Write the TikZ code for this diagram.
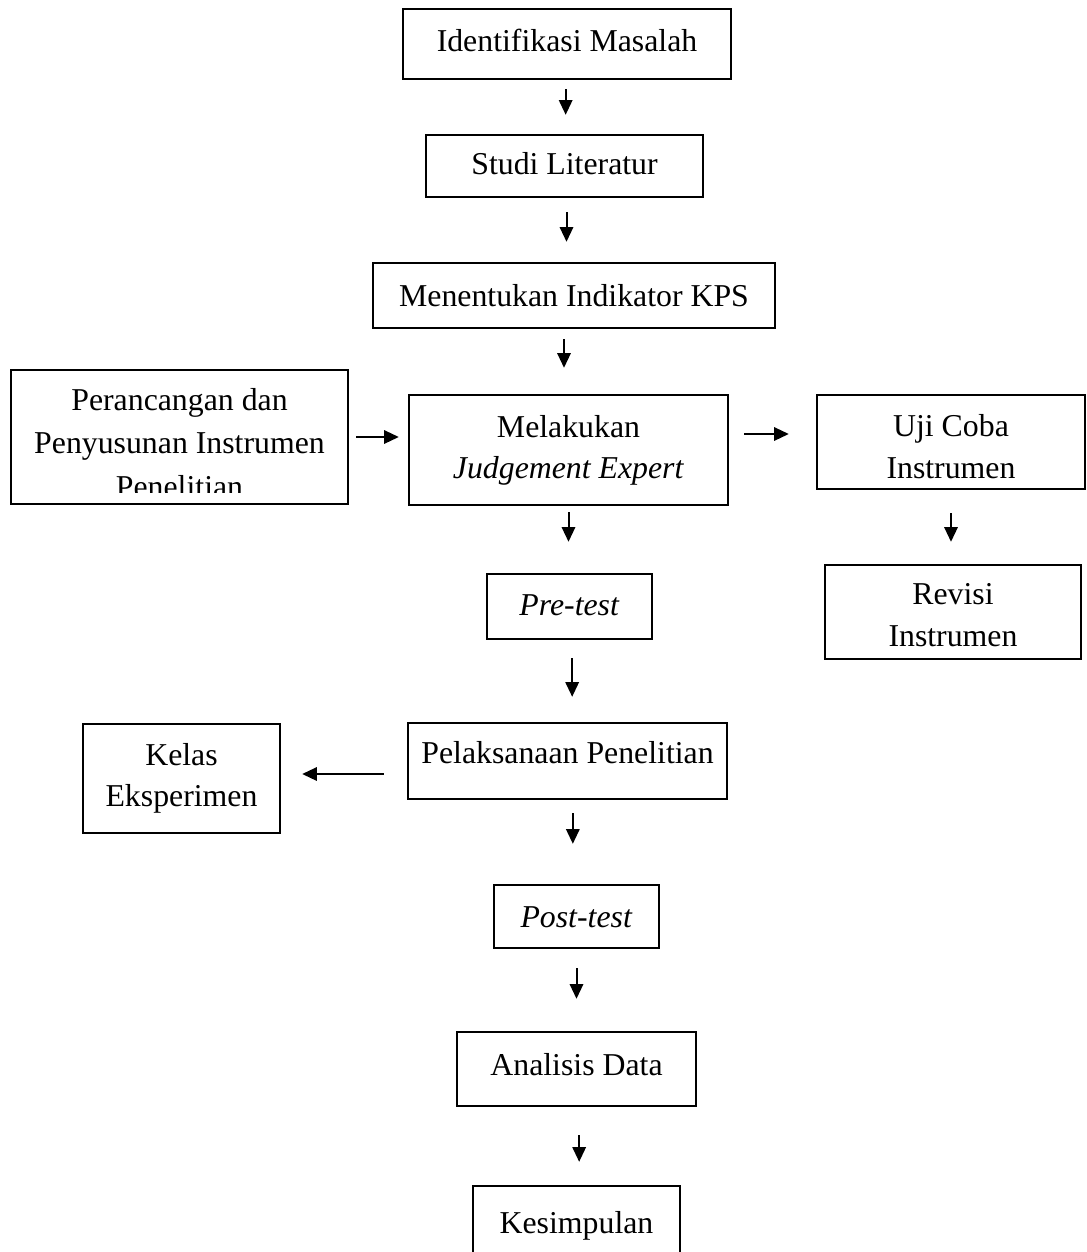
\documentclass[tikz,border=0pt]{standalone}
\usepackage{fontspec}
\setmainfont{Liberation Serif}
\usetikzlibrary{arrows.meta,calc}
% raise last baseline by #1, line distance #2, lines #3
\newcommand\tb[3]{\raisebox{#1}[0pt][0pt]{\fontsize{23.85}{#2}\selectfont\begin{tabular}[b]{@{}c@{}}#3\end{tabular}}}
\newcommand\tl[2]{\raisebox{#1}[0pt][0pt]{#2}}
\tikzset{
  box/.style={draw, line width=1.8pt, inner sep=0pt, align=center,
    font=\fontsize{23.85}{31.1}\selectfont},
  arr/.style={line width=1.5pt, -{Triangle[length=11pt,width=10pt]}}
}
\begin{document}
\begin{tikzpicture}[x=0.75pt,y=-0.75pt]
\useasboundingbox (0,0) rectangle (1086,1252);
\clip (0,0) rectangle (1086,1252);
% boxes
\node[box, minimum width=328*0.75pt, minimum height=70*0.75pt] (idm) at (567,44) {\tl{-5.5pt}{Identifikasi Masalah}};
\node[box, minimum width=277*0.75pt, minimum height=62*0.75pt] (stl) at (564.5,166) {\tl{-6.75pt}{Studi Literatur}};
\node[box, minimum width=402*0.75pt, minimum height=65*0.75pt] (mik) at (574,295.5) {\tl{-8.4pt}{Menentukan Indikator KPS}};
\node[box, minimum width=337*0.75pt, minimum height=134*0.75pt] (per) at (179.5,437) {\tb{-45pt}{32.6}{Perancangan dan\\Penyusunan Instrumen\\Penelitian}};
\fill[white] (13.5,493) rectangle (345.5,502.6);
\node[box, minimum width=319*0.75pt, minimum height=110*0.75pt] (mje) at (568.5,450) {\tb{-21.5pt}{31}{Melakukan\\\textit{Judgement Expert}}};
\node[box, minimum width=268*0.75pt, minimum height=94*0.75pt] (uji) at (951,442) {\tb{-27pt}{31}{Uji Coba\\Instrumen}};
\node[box, minimum width=165*0.75pt, minimum height=65*0.75pt] (pre) at (569.5,606.5) {\tl{-6.4pt}{\textit{Pre-test}}};
\node[box, minimum width=256*0.75pt, minimum height=94*0.75pt] (rev) at (953,612) {\tb{-26pt}{31.3}{Revisi\\Instrumen}};
\node[box, minimum width=319*0.75pt, minimum height=76*0.75pt] (pel) at (567.5,761) {\tl{-1.7pt}{Pelaksanaan Penelitian}};
\node[box, minimum width=197*0.75pt, minimum height=109*0.75pt] (kel) at (181.5,778.5) {\tb{-21.2pt}{31.3}{Kelas\\Eksperimen}};
\node[box, minimum width=165*0.75pt, minimum height=63*0.75pt] (post) at (576.5,916.5) {\tl{-7.9pt}{\textit{Post-test}}};
\node[box, minimum width=239*0.75pt, minimum height=74*0.75pt] (ana) at (576.5,1069) {\tl{-4.5pt}{Analisis Data}};
\node[box, minimum width=207*0.75pt, minimum height=114*0.75pt] (kes) at (576.5,1243) {\tl{7.5pt}{Kesimpulan}};
% vertical arrows
\draw[arr, shorten <=9*0.75pt, shorten >=19*0.75pt] ([xshift=-1pt]idm.south) -- ([xshift=-1pt]idm.south |- stl.north);
\draw[arr, shorten <=14*0.75pt, shorten >=20*0.75pt] ([xshift=1.5pt]stl.south) -- ([xshift=1.5pt]stl.south |- mik.north);
\draw[arr, shorten <=10*0.75pt, shorten >=26*0.75pt] ([xshift=-7.5pt]mik.south) -- ([xshift=-7.5pt]mik.south |- mje.north);
\draw[arr, shorten <=6*0.75pt, shorten >=31*0.75pt] (mje.south) -- (mje.south |- pre.north);
\draw[arr, shorten <=18*0.75pt, shorten >=25*0.75pt] ([xshift=2pt]pre.south) -- ([xshift=2pt]pre.south |- pel.north);
\draw[arr, shorten <=13*0.75pt, shorten >=40*0.75pt] ([xshift=4pt]pel.south) -- ([xshift=4pt]pel.south |- post.north);
\draw[arr, shorten <=19*0.75pt, shorten >=32*0.75pt] (post.south) -- (post.south |- ana.north);
\draw[arr, shorten <=28*0.75pt, shorten >=23*0.75pt] ([xshift=2pt]ana.south) -- ([xshift=2pt]ana.south |- kes.north);
\draw[arr, shorten <=23*0.75pt, shorten >=22*0.75pt] (uji.south) -- (uji.south |- rev.north);
% horizontal arrows
\draw[arr, shorten <=7*0.75pt, shorten >=9*0.75pt] (per.east) -- (per.east -| mje.west);
\draw[arr, shorten <=15*0.75pt, shorten >=27*0.75pt] (mje.east |- 0,434) -- (uji.west |- 0,434);
\draw[arr, shorten <=23*0.75pt, shorten >=21*0.75pt] (pel.west |- 0,774) -- (kel.east |- 0,774);
\end{tikzpicture}
\end{document}
